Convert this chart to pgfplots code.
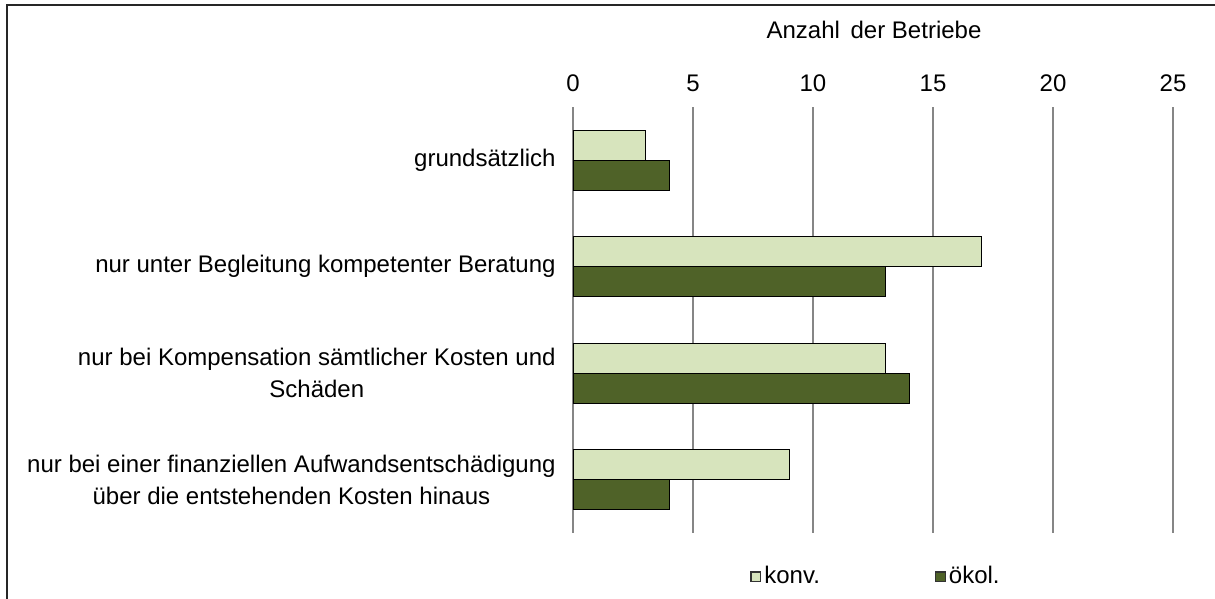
\documentclass[border=0pt]{standalone}
\usepackage{fontspec}
\setmainfont{Liberation Sans}
\usepackage{pgfplots}
\pgfplotsset{compat=1.18}
\definecolor{konv}{HTML}{D7E4BD}
\definecolor{oekol}{HTML}{4F6228}
\definecolor{gridc}{HTML}{868686}
\newcommand{\cf}{\fontsize{12bp}{16bp}\selectfont}
\begin{document}
\cf
\begin{tikzpicture}
\begin{axis}[
  at={(286.5bp,33bp)}, anchor=south west,
  scale only axis, width=300bp, height=213bp,
  xbar, bar width=0.28,
  xmin=0, xmax=25, xtick={0,5,...,25},
  ymin=-0.5, ymax=3.5, y dir=reverse,
  ytick={0,1,2,3},
  yticklabels={{grundsätzlich},{nur unter Begleitung kompetenter Beratung},{nur bei Kompensation sämtlicher Kosten und\\Schäden},{nur bei einer finanziellen Aufwandsentschädigung\\über die entstehenden Kosten hinaus}},
  yticklabel style={align=center, font=\cf, inner sep=0pt, xshift=-8.5bp},
  xticklabel pos=upper,
  xticklabel style={font=\cf, inner sep=0pt, yshift=7.5bp},
  /pgf/number format/assume math mode=true,
  axis line style={draw=none},
  major tick length=0pt,
  xmajorgrids, grid style={gridc, line width=1bp},
  legend style={at={(0.295,-0.103)}, anchor=west, draw=none, inner sep=0pt,
    legend columns=2, font=\cf,
    /tikz/every even column/.append style={column sep=56bp},
    nodes={inner sep=1.5bp}},
  legend image code/.code={\draw[#1, line width=0.7bp, draw=black!80] (0bp,-2.4bp) rectangle (4.8bp,2.4bp);},
]
\addplot[fill=konv, draw=black, line width=0.5bp, bar shift=-0.14] coordinates {(3,0) (17,1) (13,2) (9,3)};
\addplot[fill=oekol, draw=black, line width=0.5bp, bar shift=0.14] coordinates {(4,0) (13,1) (14,2) (4,3)};
\legend{konv.,ökol.}
\end{axis}
\node at (437bp,284.5bp) {Anzahl\, der Betriebe};
\draw[line width=1bp, black!85] (3.5bp,0bp) -- (3.5bp,297bp) -- (607.5bp,297bp);
\pgfresetboundingbox
\useasboundingbox (0,0) rectangle (607.5bp,299.5bp);
\end{tikzpicture}
\end{document}
